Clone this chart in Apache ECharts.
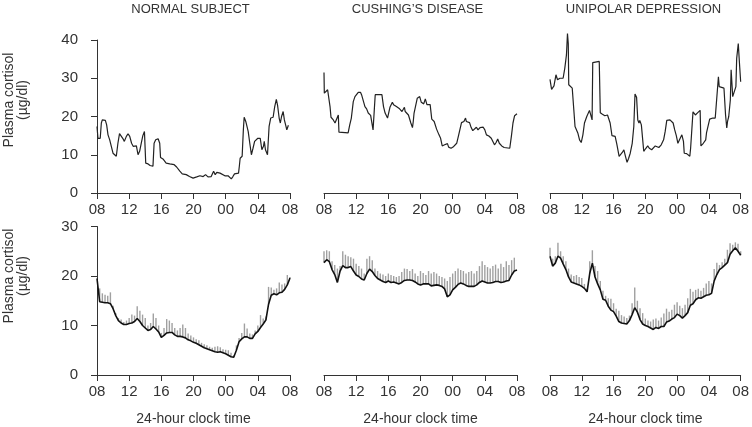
<!DOCTYPE html>
<html>
<head>
<meta charset="utf-8">
<title>Plasma cortisol 24-hour profiles</title>
<script src="https://cdn.jsdelivr.net/npm/echarts@6/dist/echarts.min.js"></script>
<style>
html, body { margin: 0; padding: 0; background: #fff; }
#chart { width: 752px; height: 427px; }
</style>
</head>
<body>
<div id="chart"></div>
<script>
var panelTitles = ['NORMAL SUBJECT', 'CUSHING\u2019S DISEASE', 'UNIPOLAR DEPRESSION'];
var clockLabels = ['08', '12', '16', '20', '00', '04', '08'];
var yTicksTop = [0, 10, 20, 30, 40];
var yTicksBottom = [0, 10, 20, 30];

// top row: measured cortisol, [hours after 08:00, µg/dl]
var normalMeasured = [[0,17.4],[0.12,14.3],[0.4,14.3],[0.54,18.3],[0.66,19.1],[1.04,19],[1.2,17.8],[1.37,15.2],[1.58,13.9],[1.78,12.2],[1.99,10.4],[2.2,10],[2.4,9.6],[2.6,13],[2.8,15.5],[3.0,15.2],[3.2,14.3],[3.4,13.5],[3.65,14.8],[3.86,15.5],[4.07,14.8],[4.3,13],[4.5,12.2],[4.7,12.6],[4.9,12.3],[5.1,10],[5.3,10.9],[5.5,13],[5.7,15],[5.9,16.1],[6.06,7.8],[6.35,7.6],[6.6,7.2],[6.96,7],[7.1,13],[7.3,13.9],[7.6,14.2],[7.8,13],[7.9,9.3],[8.2,8.9],[8.6,7.8],[9.05,7.6],[9.6,7.4],[9.9,6.8],[10.3,5.7],[10.6,5],[11.1,4.8],[11.5,4.3],[11.95,3.9],[12.4,4.2],[12.8,4.5],[13.2,4.3],[13.5,4.8],[13.8,4.2],[14.2,4.3],[14.5,5.7],[14.7,4.8],[14.9,5.4],[15.3,5.2],[15.5,4.8],[15.9,4.5],[16.3,4.5],[16.7,3.7],[16.9,4.3],[17.1,5],[17.3,4.8],[17.6,5.2],[17.7,7],[17.8,9.1],[18.05,9.6],[18.2,16.5],[18.3,19.8],[18.5,18.7],[18.7,18.3],[18.8,16.1],[19.0,13],[19.2,10],[19.4,11.7],[19.6,13.5],[20.0,14.3],[20.3,14.3],[20.5,11.3],[20.7,12.2],[20.8,13.5],[20.95,11.3],[21.2,10],[21.4,17.4],[21.6,19.6],[21.9,19.8],[22.1,22.6],[22.3,24.5],[22.45,23],[22.65,19.6],[22.8,18.3],[22.95,20],[23.15,21.3],[23.3,19.1],[23.5,17.4],[23.6,16.5],[23.8,17.7]];

var cushingMeasured = [[0,31.5],[0.04,26.1],[0.25,25.7],[0.45,27],[0.6,27.1],[0.75,22.6],[0.87,19.8],[1.16,19.1],[1.37,18.3],[1.6,18.7],[1.78,20.4],[1.86,15.9],[3.0,15.7],[3.2,17.8],[3.4,19.6],[3.64,23.9],[3.85,25.2],[4.26,26.3],[4.55,26.3],[4.67,25.7],[4.88,25.2],[5.09,22.6],[5.3,22],[5.5,20.9],[5.8,20.3],[6.0,19.8],[6.1,16.5],[6.37,25.7],[7.2,25.7],[7.4,22.6],[7.6,20.9],[7.9,19.6],[8.1,19.3],[8.2,22.4],[8.5,23.7],[8.65,23.1],[9.0,22.6],[9.4,22],[9.7,21.3],[10.0,22.4],[10.1,21.3],[10.5,20.4],[10.8,18.3],[11.0,17.1],[11.1,18.7],[11.2,20.9],[11.4,21.3],[11.6,24.8],[11.9,25.2],[12.1,23.7],[12.4,23.3],[12.6,24.6],[12.8,23.1],[13.2,23.1],[13.4,19.3],[13.7,18.7],[14.0,16.7],[14.3,15.2],[14.5,14.3],[14.7,12.3],[15.0,12.6],[15.35,12.9],[15.5,12],[15.8,11.7],[16.05,12],[16.5,13],[16.75,15.2],[17.1,18.4],[17.4,18.7],[17.6,19.6],[17.7,18.7],[18.1,18.4],[18.3,17.1],[18.5,16.3],[18.7,16.5],[18.95,17.2],[19.15,16.5],[19.4,17.1],[19.6,16.7],[19.8,17.2],[20.0,16.5],[20.2,15.2],[20.5,14.9],[20.8,14.3],[21.0,13.9],[21.2,12.6],[21.4,13.2],[21.6,14.1],[21.8,13],[22.1,12.3],[22.4,11.9],[23.1,11.7],[23.3,14.8],[23.5,18.3],[23.7,20.2],[24,20.7]];

var depressionMeasured = [[0,29.7],[0.2,27.1],[0.5,28],[0.75,30.9],[0.95,29.6],[1.24,30],[1.45,30.4],[1.65,30],[1.86,32.6],[2.07,36.1],[2.2,41.7],[2.3,39.1],[2.36,28.3],[2.6,28],[2.8,27.4],[3.0,21.7],[3.15,17.4],[3.3,17.8],[3.5,15.7],[3.72,13.9],[3.93,13.2],[4.14,15.2],[4.34,18.3],[4.63,20],[4.97,21.6],[5.17,21.7],[5.3,19.1],[5.38,34.1],[6.2,34.4],[6.33,21],[6.6,20.6],[6.9,20.2],[7.24,20.4],[7.45,20.9],[7.57,18.3],[7.8,15],[7.94,15.2],[8.2,14.8],[8.4,12.9],[8.7,9.6],[8.9,10],[9.1,10.6],[9.3,11.3],[9.5,9.6],[9.7,8],[9.9,9.1],[10.1,10.4],[10.35,13],[10.55,17.4],[10.7,25.9],[10.9,25],[11.05,19.1],[11.2,18.3],[11.3,19],[11.5,17.8],[11.6,18.1],[11.8,10.9],[12.0,11.5],[12.3,12.3],[12.5,11.7],[12.8,11.3],[13.0,11.1],[13.25,12.3],[13.45,12.3],[13.7,11.9],[14.0,12.6],[14.3,13.9],[14.5,16.1],[14.7,19],[15.1,19.1],[15.3,19.6],[15.5,18.3],[15.7,16.5],[15.9,15],[16.1,13],[16.3,13.9],[16.6,15.2],[16.8,13.5],[16.9,10.4],[17.2,10.3],[17.4,10],[17.6,9.6],[17.7,11.7],[17.9,11.7],[18.0,21.2],[18.3,20.4],[18.6,21],[18.9,21.6],[19.0,12.3],[19.3,13],[19.6,13.9],[19.7,15.7],[19.9,15.8],[20.1,19.3],[20.5,19.6],[20.8,19.6],[21.0,20],[21.2,30.4],[21.3,27.8],[21.5,27.4],[21.9,27.4],[22.1,20.4],[22.25,17],[22.35,18.7],[22.5,20],[22.7,24.3],[22.8,32.2],[23.0,25.2],[23.2,25.7],[23.4,27.8],[23.5,35.2],[23.7,39.1],[23.85,33.9],[24,29.1]];

// bottom row: deconvolved profile, one value every 20 minutes from 08:00 to 08:00
var sampleStepHours = 1 / 3;
var normalBase = [19.5,14.8,14.7,14.6,14.6,14.4,13.4,12.0,11.0,10.5,10.2,10.2,10.4,10.5,10.8,11.4,10.8,10.0,9.5,9.0,9.2,9.8,9.3,8.7,7.6,8.0,8.5,8.6,8.6,8.1,7.8,7.8,7.7,7.5,7.1,6.9,6.6,6.4,6.1,5.8,5.5,5.3,5.1,4.9,4.7,4.6,4.7,4.5,4.3,4.0,3.7,3.6,5.0,6.7,7.3,7.7,7.7,7.4,7.4,8.3,8.8,9.6,10.3,11.1,14.3,16.1,16.4,16.2,16.6,16.7,17.3,18.2,19.6];
var normalPeak = [19.5,17.5,16.5,16.2,16.0,16.7,14.0,12.5,11.5,11.2,10.7,11.0,11.5,12.2,12.0,13.9,13.0,12.2,11.5,10.0,10.5,12.4,11.5,10.0,8.5,9.5,11.3,11.0,10.5,9.5,9.0,9.5,10.2,9.5,8.4,8.0,7.6,7.2,7.0,6.5,6.2,6.0,5.7,5.5,5.7,5.8,5.6,5.2,5.1,5.0,4.5,4.0,6.0,7.5,8.5,10.4,9.4,8.4,8.2,9.0,10.0,12.1,11.4,11.8,17.8,17.7,17.2,17.5,18.7,18.3,18.5,20.2,19.8];
var cushingBase = [22.7,23.3,22.9,21.3,20.3,18.7,21.0,22.1,21.7,21.7,21.9,21.0,20.2,19.9,19.4,19.2,20.5,21.4,20.9,20.1,19.5,19.2,18.9,18.7,19.0,18.7,18.8,18.6,18.4,18.7,19.1,19.2,19.2,19.1,18.8,18.4,18.2,18.4,18.4,18.4,18.0,18.1,18.2,18.1,17.9,17.4,15.8,16.2,17.2,17.7,18.3,18.6,18.4,18.1,17.9,17.9,17.9,18.2,18.7,19.0,18.8,18.6,18.6,18.7,18.9,18.9,18.7,18.8,19.0,19.1,20.2,21.0,21.2];
var cushingPeak = [25.0,25.2,25.0,23.0,22.2,21.5,22.0,25.0,24.3,24.0,23.8,23.5,22.5,22.0,21.5,20.5,23.5,24.0,23.2,21.5,21.0,20.5,20.3,20.0,20.5,20.2,20.0,19.8,20.0,20.8,21.5,21.4,21.0,21.4,20.5,20.0,21.0,20.6,20.2,21.0,20.5,20.8,20.5,20.0,19.8,19.5,19.0,19.8,20.5,21.0,21.5,21.2,21.0,20.5,20.8,21.0,20.5,21.0,22.0,23.0,22.2,21.8,21.5,22.0,22.3,21.5,22.5,21.8,23.0,22.2,23.2,23.7,21.2];
var depressionBase = [24.0,22.0,22.6,24.0,23.6,22.4,21.3,19.8,18.8,18.6,18.4,18.2,17.9,17.5,16.8,20.5,22.6,19.8,18.4,17.2,15.3,15.1,13.9,13.1,12.8,11.9,10.8,10.5,10.4,10.3,11.0,12.2,13.6,12.7,11.2,10.3,10.0,9.8,9.5,9.2,9.6,9.4,9.8,9.8,10.7,10.9,11.3,11.6,12.3,12.0,11.5,12.0,12.6,14.1,14.4,15.2,15.6,15.5,15.8,16.1,16.2,16.5,19.0,20.3,21.3,21.7,22.2,22.7,24.4,25.1,25.7,25.0,24.2];
var depressionPeak = [25.7,23.5,24.0,26.7,25.0,24.0,23.0,21.5,20.3,20.0,20.2,19.8,19.6,18.4,17.5,23.0,25.2,22.0,21.0,19.0,17.0,16.0,15.5,15.4,14.5,13.4,13.0,12.1,11.8,11.5,12.0,14.5,17.7,15.0,13.5,12.5,11.4,11.0,10.8,11.2,11.4,11.0,11.6,12.4,13.4,12.8,13.2,14.2,14.7,14.0,13.5,14.2,15.5,17.4,16.8,17.2,17.4,17.0,17.6,18.5,19.0,18.5,21.4,22.7,22.2,22.8,23.5,25.3,26.6,26.3,26.8,26.5,25.0];

var measuredSets = [normalMeasured, cushingMeasured, depressionMeasured];
var baseSets = [normalBase, cushingBase, depressionBase];
var peakSets = [normalPeak, cushingPeak, depressionPeak];

var colLeft = [97, 324, 550];
var colWidth = 193;
var textColor = '#333';
var fontFamily = '"Liberation Sans", Arial, sans-serif';

function clockFormatter(v) {
    return clockLabels[Math.round(v / 4)];
}

var grids = [], xAxes = [], yAxes = [], series = [], graphics = [];

for (var row = 0; row < 2; row++) {
    for (var col = 0; col < 3; col++) {
        var idx = row * 3 + col;
        var ticks = row === 0 ? yTicksTop : yTicksBottom;
        grids.push({
            left: colLeft[col],
            width: colWidth,
            top: row === 0 ? 40 : 226.5,
            height: row === 0 ? 153 : 151
        });
        xAxes.push({
            gridIndex: idx,
            type: 'value',
            min: 0, max: 24, interval: 4,
            splitLine: { show: false },
            axisLine: { lineStyle: { color: textColor, width: 1 } },
            axisTick: { length: 6, lineStyle: { color: textColor } },
            axisLabel: { color: textColor, fontSize: 15, fontFamily: fontFamily, margin: 9, formatter: clockFormatter },
            name: row === 1 ? '24-hour clock time' : '',
            nameLocation: 'middle',
            nameGap: 37,
            nameTextStyle: { color: textColor, fontSize: 14, fontFamily: fontFamily }
        });
        yAxes.push({
            gridIndex: idx,
            type: 'value',
            show: col === 0,
            min: 0, max: ticks[ticks.length - 1], interval: 10,
            offset: 9,
            splitLine: { show: false },
            axisLine: { show: true, lineStyle: { color: textColor, width: 1 } },
            axisTick: { show: true, length: 6, lineStyle: { color: textColor } },
            axisLabel: { color: textColor, fontSize: 15, fontFamily: fontFamily, margin: 10 }
        });

        if (row === 0) {
            series.push({
                type: 'line',
                xAxisIndex: idx, yAxisIndex: idx,
                data: measuredSets[col],
                showSymbol: false,
                clip: false,
                lineStyle: { color: '#222', width: 1.2 }
            });
        } else {
            var base = baseSets[col], peak = peakSets[col];
            var spikes = [], line = [];
            for (var i = 0; i < base.length; i++) {
                var t = i * sampleStepHours;
                spikes.push([t, base[i], peak[i]]);
                line.push([t, base[i]]);
            }
            series.push({
                type: 'custom',
                xAxisIndex: idx, yAxisIndex: idx,
                data: spikes,
                encode: { x: 0, y: [1, 2] },
                renderItem: function (params, api) {
                    var p1 = api.coord([api.value(0), api.value(1)]);
                    var p2 = api.coord([api.value(0), api.value(2)]);
                    return {
                        type: 'line',
                        shape: { x1: p1[0], y1: p1[1], x2: p2[0], y2: p2[1] },
                        style: { stroke: '#a0a0a0', lineWidth: 1.4 }
                    };
                }
            });
            series.push({
                type: 'line',
                xAxisIndex: idx, yAxisIndex: idx,
                data: line,
                showSymbol: false,
                lineStyle: { color: '#111', width: 1.6 },
                z: 3
            });
        }
    }
}

// panel titles
for (var c = 0; c < 3; c++) {
    graphics.push({
        type: 'text',
        x: colLeft[c] + colWidth / 2 - 3,
        y: 9,
        style: {
            text: panelTitles[c],
            textAlign: 'center',
            textVerticalAlign: 'middle',
            font: '13px ' + fontFamily,
            fill: textColor
        }
    });
}

// y axis titles
[100, 276].forEach(function (cy) {
    graphics.push({
        type: 'text', x: 9, y: cy, rotation: Math.PI / 2,
        style: { text: 'Plasma cortisol', textAlign: 'center', textVerticalAlign: 'middle', font: '14px ' + fontFamily, fill: textColor }
    });
    graphics.push({
        type: 'text', x: 23, y: cy, rotation: Math.PI / 2,
        style: { text: '(\u00b5g/dl)', textAlign: 'center', textVerticalAlign: 'middle', font: '14px ' + fontFamily, fill: textColor }
    });
});

var chart = echarts.init(document.getElementById('chart'));
chart.setOption({
    animation: false,
    backgroundColor: '#fff',
    grid: grids,
    xAxis: xAxes,
    yAxis: yAxes,
    series: series,
    graphic: graphics
});
</script>
</body>
</html>
